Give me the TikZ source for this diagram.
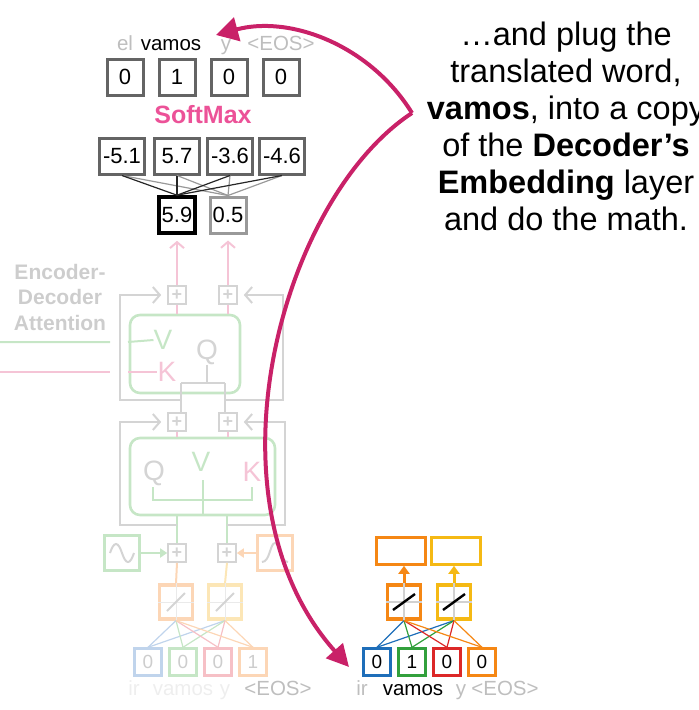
\documentclass[tikz,border=0pt]{standalone}
\usepackage{fontspec}
\setmainfont{Liberation Sans}
\usetikzlibrary{arrows.meta,positioning}

\definecolor{hotpink}{RGB}{236,82,152}
\definecolor{plum}{RGB}{201,33,104}
\definecolor{boxgray}{RGB}{100,100,100}
\definecolor{wordgray}{RGB}{190,190,190}
\definecolor{fadegray}{RGB}{212,212,212}
\definecolor{fadetext}{RGB}{205,205,205}
\definecolor{fadeword}{RGB}{238,238,238}
\definecolor{fadegreen}{RGB}{198,230,198}
\definecolor{fadepink}{RGB}{245,196,214}
\definecolor{fadeorange}{RGB}{252,214,182}
\definecolor{fadeyellow}{RGB}{252,230,182}
\definecolor{fadeblue}{RGB}{192,212,236}
\definecolor{fadered}{RGB}{246,192,198}
\definecolor{embblue}{RGB}{30,110,185}
\definecolor{embgreen}{RGB}{50,160,60}
\definecolor{embred}{RGB}{220,40,40}
\definecolor{embor}{RGB}{245,135,20}
\definecolor{embyel}{RGB}{245,185,20}

\tikzset{
  valbox/.style={draw=boxgray,line width=3pt,minimum width=36pt,minimum height=36pt,inner sep=0pt,font=\fontsize{22}{22}\selectfont},
  widebox/.style={valbox,minimum width=45pt},
  word/.style={anchor=base,inner sep=0pt,font=\fontsize{20.5}{20.5}\selectfont},
  plusbox/.style={draw=fadegray,line width=1.6pt,minimum size=18pt,inner sep=0pt,text=fadegray,font=\bfseries\fontsize{18}{18}\selectfont},
  attbox/.style={draw=fadegreen,line width=2.6pt,rounded corners=10pt,inner sep=0pt},
  resid/.style={fadegray,line width=2pt},
  chevron/.style={resid,-{Straight Barb[length=7pt,width=16pt]},shorten >=6pt},
  letter/.style={inner sep=0pt,font=\fontsize{28}{28}\selectfont},
  onehot/.style={draw,line width=2.4pt,minimum size=27pt,inner sep=0pt,font=\fontsize{19}{19}\selectfont},
  actbox/.style={draw,line width=3.2pt,minimum width=33pt,minimum height=34pt,inner sep=0pt},
  outbox/.style={draw,line width=2.6pt,minimum width=49pt,minimum height=27pt,inner sep=0pt},
  wire/.style={line width=1.2pt},
  bigarrow/.style={plum,line width=4pt}
}

\begin{document}
\begin{tikzpicture}[x=1pt,y=-1pt]
\clip (0,0) rectangle (699,710);

% output of the decoder
\node[word,text=wordgray] (tel) at (125,50) {el};
\node[word] (tvamos) at (171,50) {vamos};
\node[word,text=wordgray] (ty) at (226,50) {y};
\node[word,text=wordgray] (teos) at (281,50) {<EOS>};
\node[valbox] (o1) at (125,77) {0};
\node[valbox] (o2) at (177,77) {1};
\node[valbox] (o3) at (229,77) {0};
\node[valbox] (o4) at (281,77) {0};
\node[text=hotpink,font=\bfseries\fontsize{25}{25}\selectfont] (smax) at (203,115) {SoftMax};
\node[widebox] (l1) at (122,156) {-5.1};
\node[widebox] (l2) at (177,156) {5.7};
\node[widebox] (l3) at (230,156) {-3.6};
\node[widebox] (l4) at (282,156) {-4.6};
\node[valbox,draw=black,line width=3.6pt] (h1) at (177,215) {5.9};
\node[valbox,draw=black!40] (h2) at (228,215) {0.5};
\foreach \i in {1,...,4} {
  \draw[wire,black!40] (l\i.south) -- (h2.north);
  \draw[wire,black!85] (l\i.south) -- (h1.north);
}

% faded decoder stack
\node[align=center,text=fadetext,font=\bfseries\fontsize{21}{25.5}\selectfont] (encdec) at (60,297) {Encoder-\\Decoder\\Attention};
\node[plusbox] (pa) at (177,295) {+};
\node[plusbox] (pb) at (228,295) {+};
\node[attbox,minimum width=110pt,minimum height=78pt] (att1) at (185,354) {};
\node[plusbox] (pc) at (177,422) {+};
\node[plusbox] (pd) at (228,422) {+};
\node[attbox,minimum width=145pt,minimum height=77pt] (att2) at (202.5,476.5) {};
\node[letter,text=fadegreen] (v1) at (163,340) {V};
\node[letter,text=fadepink] (k1) at (167,372) {K};
\node[letter,text=fadegray] (q1) at (207,352) {Q};
\node[letter,text=fadegray] (q2) at (154,473) {Q};
\node[letter,text=fadegreen] (v2) at (201,462) {V};
\node[letter,text=fadepink] (k2) at (252,472) {K};

\draw[fadepink,line width=2pt,-{Straight Barb[length=6pt,width=14pt]},shorten >=6pt] (pa.north) -- (h1.south);
\draw[fadepink,line width=2pt,-{Straight Barb[length=6pt,width=14pt]},shorten >=6pt] (pb.north) -- (h2.south);
\draw[fadepink,line width=2pt] (pa.south) -- (pa.south |- att1.north);
\draw[fadepink,line width=2pt] (pb.south) -- (pb.south |- att1.north);
\draw[fadepink,line width=2pt] (pc.south) -- (pc.south |- att2.north);
\draw[fadepink,line width=2pt] (pd.south) -- (pd.south |- att2.north);

\draw[fadegreen,line width=2pt] (0,342) -- (110,342) (128,342) -- (v1.west);
\draw[fadepink,line width=2pt] (0,372) -- (110,372) (128,372) -- (k1.west);

\coordinate (qa) at (181,383);
\coordinate (qb) at (225,383);
\draw[resid] (q1.south) -- (207,383);
\draw[resid] (qa) -- (qb);
\draw[resid] (qa) -- (pc.north -| qa);
\draw[resid] (qb) -- (pd.north -| qb);
\draw[chevron] (181,400) -| (120,295) -- (pa.west);
\draw[chevron] (225,400) -| (283,295) -- (pb.east);

\draw[fadegreen,line width=2pt] (153,487) -- (153,500) -- (252,500) -- (252,487);
\draw[fadegreen,line width=2pt] (203,480) -- (203,515);

\node[plusbox] (pe) at (177,553) {+};
\node[plusbox] (pf) at (227,553) {+};
\draw[fadegreen,line width=2pt] (pe.north) -- (pe.north |- att2.south);
\draw[fadegreen,line width=2pt] (pf.north) -- (pf.north |- att2.south);
\draw[chevron] (177,525) -| (120,422) -- (pc.west);
\draw[chevron] (227,525) -| (285,422) -- (pd.east);

\node[draw=fadegreen,line width=2.6pt,minimum size=35pt,inner sep=0pt] (sine) at (122,553) {};
\node[draw=fadeorange,line width=2.6pt,minimum size=35pt,inner sep=0pt] (bell) at (275,553) {};
\draw[fadegray,line width=2pt] ([xshift=-12pt]sine.center) .. controls ([xshift=-8pt,yshift=12pt]sine.center) and ([xshift=-4pt,yshift=12pt]sine.center) .. (sine.center) .. controls ([xshift=4pt,yshift=-12pt]sine.center) and ([xshift=8pt,yshift=-12pt]sine.center) .. ([xshift=12pt]sine.center);
\draw[fadegray,line width=2pt] ([xshift=-13pt,yshift=-9pt]bell.center) .. controls ([xshift=-5pt,yshift=-9pt]bell.center) and ([xshift=-5pt,yshift=10pt]bell.center) .. ([yshift=10pt]bell.center) .. controls ([xshift=5pt,yshift=10pt]bell.center) and ([xshift=5pt,yshift=-9pt]bell.center) .. ([xshift=13pt,yshift=-9pt]bell.center);
\draw[fadegreen,line width=2.2pt,-{Triangle[length=7pt,width=9pt]}] (sine.east) -- (pe.west);
\draw[fadeorange,line width=2.2pt,-{Triangle[length=7pt,width=9pt]}] (bell.west) -- (pf.east);

\node[actbox,draw=fadeorange] (fa1) at (176,602) {};
\node[actbox,draw=fadeyellow] (fa2) at (225,602) {};
\draw[fadeorange,line width=2pt] (pe.south) -- (fa1.north);
\draw[fadeyellow,line width=2pt] (pf.south) -- (fa2.north);
\foreach \a in {fa1,fa2} {
  \draw[fadegray!50,line width=1pt] (\a.north) -- (\a.south) (\a.west) -- (\a.east);
  \draw[fadegray,line width=2pt] ([shift={(-9,9)}]\a.center) -- ([shift={(9,-9)}]\a.center);
}

\node[onehot,draw=fadeblue,text=fadetext] (fi1) at (148,662) {0};
\node[onehot,draw=fadegreen,text=fadetext] (fi2) at (183,662) {0};
\node[onehot,draw=fadered,text=fadetext] (fi3) at (218,662) {0};
\node[onehot,draw=fadeorange,text=fadetext] (fi4) at (253,662) {1};
\foreach \i/\c in {1/fadeblue,2/fadegreen,3/fadered,4/fadeorange} {
  \draw[wire,\c] (fi\i.north) -- (fa1.south);
  \draw[wire,\c] (fi\i.north) -- (fa2.south);
}
\node[word,text=fadeword] (fir) at (134,695) {ir};
\node[word,text=fadeword] (fvamos) at (183,695) {vamos};
\node[word,text=fadeword] (fy) at (225,695) {y};
\node[word,text=wordgray] (feos) at (278,695) {<EOS>};

% copy of the decoder embedding
\node[onehot,draw=embblue] (e1) at (377,662) {0};
\node[onehot,draw=embgreen] (e2) at (412,662) {1};
\node[onehot,draw=embred] (e3) at (447,662) {0};
\node[onehot,draw=embor] (e4) at (482,662) {0};
\node[actbox,draw=embor] (a1) at (404,602) {};
\node[actbox,draw=embyel] (a2) at (454,602) {};
\node[outbox,draw=embor] (u1) at (401,551) {};
\node[outbox,draw=embyel] (u2) at (456,551) {};
\foreach \a in {a1,a2} {
  \draw[black!18,line width=1.2pt] (\a.north) -- (\a.south) (\a.west) -- (\a.east);
  \draw[black,line width=2.4pt] ([shift={(-11,8)}]\a.center) -- ([shift={(11,-8)}]\a.center);
}
\draw[embor,line width=3pt,-{Triangle[length=8pt,width=11pt]}] (a1.north) -- (a1.north |- u1.south);
\draw[embyel,line width=3pt,-{Triangle[length=8pt,width=11pt]}] (a2.north) -- (a2.north |- u2.south);
\foreach \i/\c in {1/embblue,2/embgreen,3/embred,4/embor} {
  \draw[wire,\c] (e\i.north) -- (a1.south);
  \draw[wire,\c] (e\i.north) -- (a2.south);
}
\node[word,text=wordgray] (eir) at (362,695) {ir};
\node[word] (evamos) at (413,695) {vamos};
\node[word,text=wordgray] (ey) at (461,695) {y};
\node[word,text=wordgray] (eeos) at (505,695) {<EOS>};

% explanation and arrows
\node[align=center,anchor=base,inner sep=0pt,font=\fontsize{32.5}{37}\selectfont] (note) at (566,230) {…and plug the\\translated word,\\\textbf{vamos}, into a copy\\of the \textbf{Decoder’s}\\\textbf{Embedding} layer\\and do the math.};
\coordinate (src) at (412,113);
\draw[bigarrow,-{Triangle[length=22pt,width=24pt]}] (src) .. controls (370,45) and (290,15) .. (216,35);
\draw[bigarrow,-{Triangle[length=22pt,width=22pt]}] (src) .. controls (280,200) and (200,500) .. (349,667);
\end{tikzpicture}
\end{document}
